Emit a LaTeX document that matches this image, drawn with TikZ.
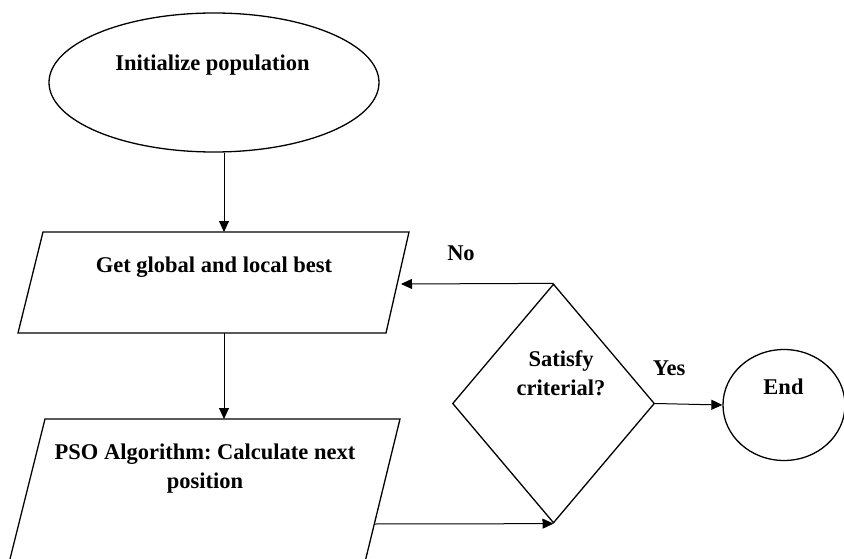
\documentclass[tikz,border=0pt]{standalone}
\usepackage{fontspec}
\setmainfont{Liberation Serif}
\usetikzlibrary{shapes.geometric,arrows.meta}
\frenchspacing
\begin{document}
\begin{tikzpicture}[x=1pt,y=-1pt,
  shp/.style={draw=black, line width=1.3pt, inner sep=0pt},
  lbl/.style={font=\bfseries\fontsize{22.5}{29}\selectfont, inner sep=0pt, align=center},
  arr/.style={draw=black, line width=1pt, -{Triangle[length=11pt,width=10pt]}}]
\useasboundingbox (0,0) rectangle (844,559);
\clip (0,0) rectangle (844,559);

% start ellipse
\node[shp, ellipse, minimum width=330pt, minimum height=139pt] (init) at (214,82.5) {};
\node[lbl, anchor=base] (initT) at (212.5,71) {Initialize population};

% parallelogram 1
\coordinate (p1a) at (43,232);
\coordinate (p1b) at (409,232);
\coordinate (p1c) at (386,333);
\coordinate (p1d) at (18,333);
\draw[shp] (p1a) -- (p1b) -- (p1c) -- (p1d) -- cycle;
\node[lbl, anchor=base] (p1T) at (214,272) {Get global and local best};
\coordinate (p1n) at (224,232);
\coordinate (p1s) at (224,333);
\coordinate (p1e) at (401,284);

% parallelogram 2 (cut by the lower edge)
\coordinate (p2a) at (45,419);
\coordinate (p2b) at (400,419);
\coordinate (p2c) at (360.6,580);
\coordinate (p2d) at (4.75,580);
\draw[shp] (p2d) -- (p2a) -- (p2b) -- (p2c);
\node[lbl, anchor=center] (p2T) at (205,469) {PSO Algorithm: Calculate next\\position};
\coordinate (p2n) at (224,419);
\coordinate (p2e) at (375,524);

% decision
\node[shp, diamond, minimum width=202pt, minimum height=239pt] (dia) at (553.5,403.5) {};
\node[lbl, anchor=center] (diaT) at (561,373) {Satisfy\\criterial?};

% end ellipse
\node[shp, ellipse, minimum width=122pt, minimum height=111pt] (fin) at (784,405) {};
\node[lbl, anchor=base] (finT) at (783.5,394) {End};

% labels
\node[lbl, anchor=base] (no) at (461,260) {No};
\node[lbl, anchor=base] (yes) at (669,375) {Yes};

% connectors
\draw[arr] (init.south -| p1n) -- (p1n);
\draw[arr] (p1s) -- (p2n);
\draw[arr] (dia.north) -- (p1e);
\draw[arr] (p2e) -- (dia.south);
\draw[arr] (dia.east) -- (fin.west);
\end{tikzpicture}
\end{document}
